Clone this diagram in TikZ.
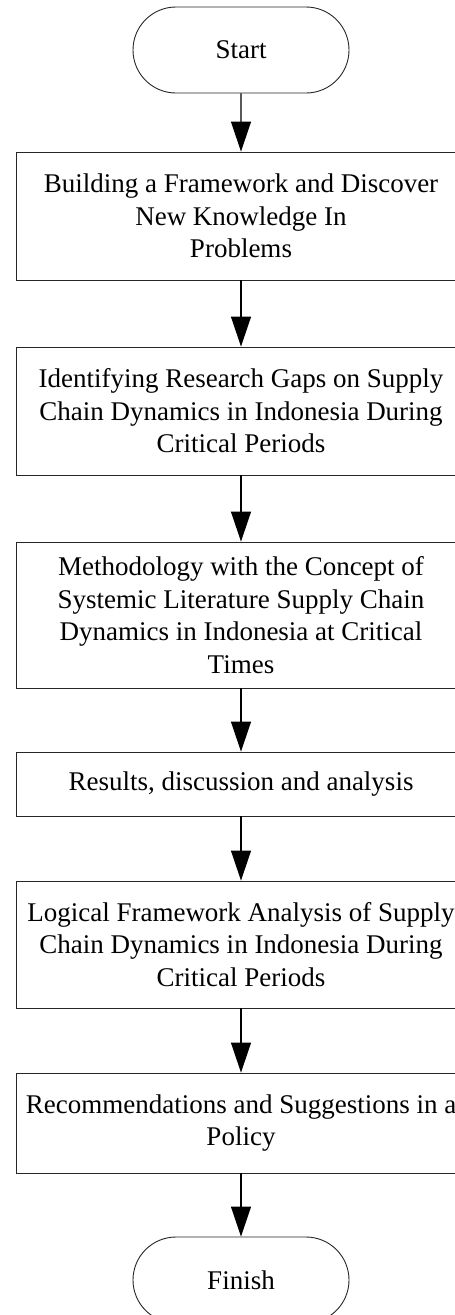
\documentclass[tikz,border=0pt]{standalone}
\usepackage{fontspec}
\setmainfont{Liberation Serif}
\usetikzlibrary{arrows.meta,shapes.misc}
\begin{document}
\begin{tikzpicture}[x=1pt,y=-1pt,
  every node/.style={font=\fontsize{27}{32.5}\selectfont, inner sep=0pt, align=center},
  procbox/.style={draw=black!85, line width=0.9pt, minimum width=450pt},
  term/.style={draw=black!85, line width=0.9pt, rounded rectangle, minimum width=216pt, minimum height=86pt},
  flow/.style={-{Triangle[width=20pt,length=30pt]}, line width=1.2pt, black}
]
\useasboundingbox (0,0) rectangle (455,1315);
\clip (0,0) rectangle (455,1315);
\node[term] (start) at (241,50) {Start};
\node[procbox, minimum height=128pt] (b1) at (241,216) {Building a Framework and Discover\\New Knowledge In\\Problems};
\node[procbox, minimum height=128pt] (b2) at (241,411) {Identifying Research Gaps on Supply\\Chain Dynamics in Indonesia During\\Critical Periods};
\node[procbox, minimum height=146pt] (b3) at (241,615) {Methodology with the Concept of\\Systemic Literature Supply Chain\\Dynamics in Indonesia at Critical\\Times};
\node[procbox, minimum height=64pt] (b4) at (241,784) {Results, discussion and analysis};
\node[procbox, minimum height=127pt] (b5) at (241,944.5) {Logical Framework Analysis of Supply\\Chain Dynamics in Indonesia During\\Critical Periods};
\node[procbox, minimum height=100pt] (b6) at (241,1123) {Recommendations and Suggestions in a\\Policy};
\node[term] (finish) at (241,1280) {Finish};
\draw[flow] (start) -- (b1);
\draw[flow] (b1) -- (b2);
\draw[flow] (b2) -- (b3);
\draw[flow] (b3) -- (b4);
\draw[flow] (b4) -- (b5);
\draw[flow] (b5) -- (b6);
\draw[flow] (b6) -- (finish);
\end{tikzpicture}
\end{document}
